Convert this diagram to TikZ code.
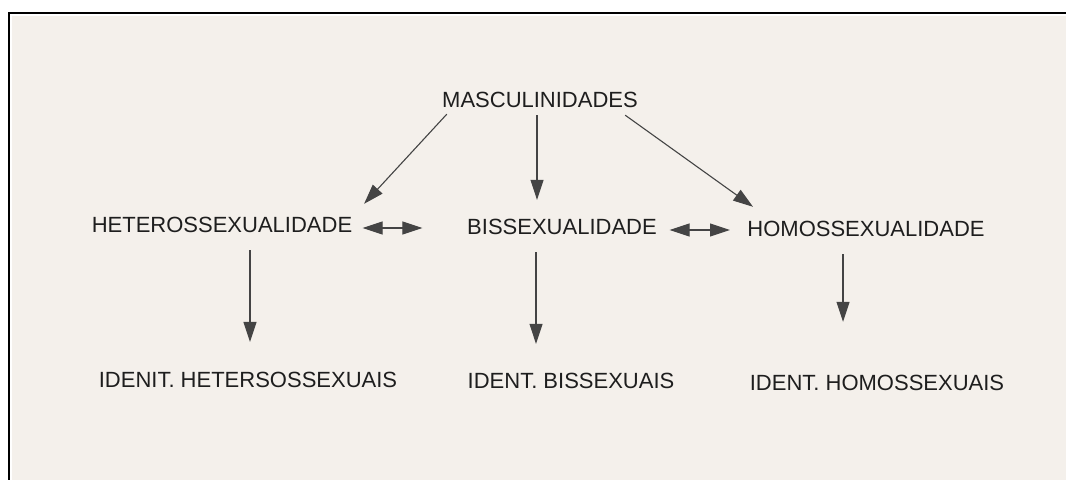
\documentclass[tikz,border=0pt]{standalone}
\usepackage{fontspec}
\setmainfont{Liberation Sans}
\usetikzlibrary{arrows.meta}
\definecolor{paper}{HTML}{F4F0EB}
\definecolor{ink}{HTML}{1E1E1E}
\definecolor{lineink}{HTML}{444444}
\tikzset{
	termo/.style={inner sep=0pt,text=ink,font=\fontsize{11}{13}\selectfont},
	seta/.style={->,draw=lineink,line width=0.55pt},
	dupla/.style={<->,draw=lineink,line width=0.55pt}
}
\begin{document}
\begin{tikzpicture}[>={Triangle[length=10pt,width=6.5pt]},x=0.5pt,y=0.5pt]
		\useasboundingbox (0,0) rectangle (1066,-480);
		\fill[paper] (12,-16) rectangle (1066,-480);
		\draw[line width=1pt] (8.5,-480) -- (8.5,-12.8) -- (1066,-12.8);
		% termos
		\node[termo] (masc) at (540,-100) {MASCULINIDADES};
		\node[termo] (hetero) at (222,-225) {HETEROSSEXUALIDADE};
		\node[termo] (bis) at (562,-227) {BISSEXUALIDADE};
		\node[termo] (homo) at (866,-229) {HOMOSSEXUALIDADE};
		\node[termo] (idhetero) at (248,-380) {IDENIT. HETERSOSSEXUAIS};
		\node[termo] (idbis) at (571,-381) {IDENT. BISSEXUAIS};
		\node[termo] (idhomo) at (877,-383) {IDENT. HOMOSSEXUAIS};
		% setas
		\draw[seta] ([shift={(5,-6)}]masc.south west) -- ([shift={(11.5,13)}]hetero.north east);
		\draw[seta] ([shift={(-3,-7)}]masc.south) -- ([shift={(-25,19)}]bis.north);
		\draw[seta] ([shift={(-13,-7)}]masc.south east) -- ([shift={(6,14)}]homo.north west);
		\draw[dupla] ([shift={(10,-3)}]hetero.east) -- ([shift={(-44.5,-1)}]bis.west);
		\draw[dupla] ([shift={(12.5,-3)}]bis.east) -- ([shift={(-17,-1)}]homo.west);
		\draw[seta] ([shift={(28,-17)}]hetero.south) -- ([shift={(2,30)}]idhetero.north);
		\draw[seta] ([shift={(-26,-17)}]bis.south) -- ([shift={(-35,29)}]idbis.north);
		\draw[seta] ([shift={(-23,-17)}]homo.south) -- ([shift={(-34,53)}]idhomo.north);
\end{tikzpicture}
\end{document}
